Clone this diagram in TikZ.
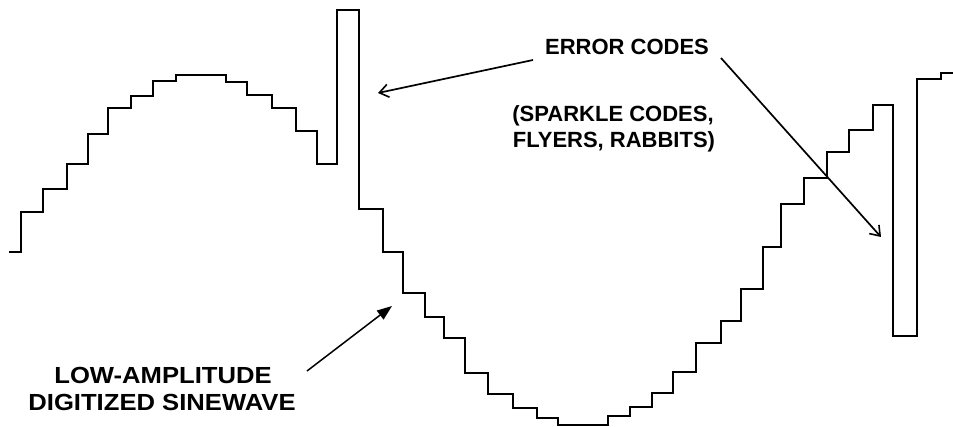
\documentclass[tikz,border=0pt]{standalone}
\usepackage{fontspec}
\setmainfont{Liberation Sans}
\usetikzlibrary{arrows.meta}
\begin{document}
\begin{tikzpicture}[x=1pt,y=-1pt,
  wave/.style={line width=2.3pt,line join=miter},
  openarrow/.style={line width=1.7pt,-{Straight Barb[length=9pt,width=13pt,line width=1.6pt]}},
  fillarrow/.style={line width=1.5pt,-{Triangle[length=15pt,width=11pt]}},
  toplabel/.style={font=\fontsize{22}{26}\selectfont\bfseries,inner sep=0pt},
  lowlabel/.style={font=\fontsize{23.3}{26.5}\selectfont\bfseries,inner sep=0pt,align=center}]
\useasboundingbox (0,0) rectangle (953,427);
% staircase waveform
\draw[wave] (9,252) -- (21,252) -- (21,212) -- (43,212) -- (43,189) -- (67,189) -- (67,164) -- (88,164) -- (88,134) -- (108,134) -- (108,108) -- (131,108) -- (131,96) -- (153,96) -- (153,81) -- (176,81) -- (176,75) -- (226,75) -- (226,82) -- (247,82) -- (247,95) -- (272,95) -- (272,108) -- (296,108) -- (296,131) -- (317,131) -- (317,164) -- (337,164) -- (337,10) -- (359,10) -- (359,209) -- (383,209) -- (383,252) -- (403,252) -- (403,293) -- (425,293) -- (425,317) -- (444,317) -- (444,338) -- (465,338) -- (465,373) -- (488,373) -- (488,394) -- (513,394) -- (513,408) -- (537,408) -- (537,418) -- (558,418) -- (558,425) -- (608,425) -- (608,416) -- (630,416) -- (630,407) -- (652,407) -- (652,393) -- (673,393) -- (673,372) -- (696,372) -- (696,343) -- (721,343) -- (721,321) -- (741,321) -- (741,289) -- (763,289) -- (763,247) -- (781,247) -- (781,204) -- (804,204) -- (804,178) -- (827,178) -- (827,152) -- (849,152) -- (849,130) -- (873,130) -- (873,105) -- (893,105) -- (893,336) -- (917,336) -- (917,79) -- (941,79) -- (941,73) -- (953,73);
% labels
\node[toplabel,anchor=base] (err) at (627,55) {ERROR CODES};
\node[toplabel,anchor=base] (spk1) at (613,122) {(SPARKLE CODES,};
\node[toplabel,anchor=base] (spk2) at (614,148) {FLYERS, RABBITS)};
\node[lowlabel,anchor=base] (low1) at (163,384) {\scalebox{1.1}[1]{LOW-AMPLITUDE}};
\node[lowlabel,anchor=base] (low2) at (162,410) {\scalebox{1.1}[1]{DIGITIZED SINEWAVE}};
% arrow endpoints
\coordinate (e1s) at (533,60);
\coordinate (e1t) at (378,93);
\coordinate (e2s) at (721,58);
\coordinate (e2t) at (881,237);
\coordinate (ls) at (307,371);
\coordinate (lt) at (392,306);
\draw[openarrow] (e1s) -- (e1t);
\draw[openarrow] (e2s) -- (e2t);
\draw[fillarrow] (ls) -- (lt);
\end{tikzpicture}
\end{document}
